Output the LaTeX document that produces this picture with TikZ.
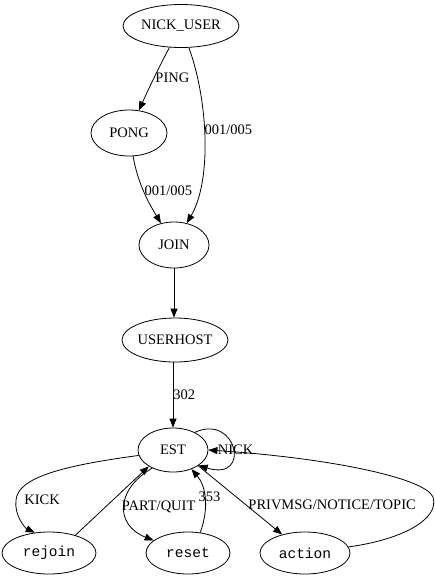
\documentclass[tikz,border=0pt]{standalone}
\usepackage{fontspec}
\setmainfont{Liberation Serif}
\setmonofont{Liberation Mono}
\usepackage{tikz}
\usetikzlibrary{shapes.geometric, arrows.meta, positioning}

\begin{document}
\begin{tikzpicture}[
    x=1pt, y=-1pt,
    state/.style={draw, ellipse, line width=0.8pt, inner sep=0pt, minimum width=70pt, minimum height=44pt, font=\fontsize{14.5}{16}\selectfont},
    cmd/.style={state, font=\ttfamily\fontsize{14.5}{16}\selectfont, minimum height=42pt},
    lbl/.style={font=\fontsize{14.5}{16}\selectfont, inner sep=1pt},
    arr/.style={-{Triangle[length=9pt,width=7pt]}, line width=0.8pt}
]
    \useasboundingbox (0,0) rectangle (435,582);

    \node[state, minimum width=116pt, minimum height=43pt] (nickuser) at (181,26) {NICK\_USER};
    \node[state, minimum width=76pt, minimum height=46pt] (pong) at (129,133) {PONG};
    \node[state, minimum height=46pt] (join) at (174,245) {JOIN};
    \node[state, minimum width=105pt] (userhost) at (175,340) {USERHOST};
    \node[state] (est) at (173,450) {EST};
    \node[cmd, minimum width=94pt] (rejoin) at (49,553) {rejoin};
    \node[cmd, minimum width=84pt] (reset) at (188,553) {reset};
    \node[cmd, minimum width=90pt] (action) at (305,553) {action};

    % login sequence
    \draw[arr] (nickuser) .. controls (160,65) and (148,90) .. node[lbl, right] {PING} (pong);
    \draw[arr] (nickuser.-70) .. controls (208,100) and (212,180) .. node[lbl, right, pos=0.45, inner sep=0pt] {001/005} (join);
    \draw[arr] (pong.-80) .. controls (138,185) and (150,205) .. node[lbl, right, pos=0.45] {001/005} (join);
    \draw[arr] (join.south) -- (join.south |- userhost.north);
    \draw[arr] (est.north |- userhost.south) -- node[lbl, right, inner sep=0pt] {302} (est.north);

    % established
    \draw[arr] (est.39) .. controls (237,413) and (252,482) .. node[lbl, pos=0.5, xshift=3pt, yshift=-2pt] {NICK} (est.-31);
    \draw[arr] (est.189) .. controls (60,466) and (18,478) .. (16,500) node[lbl, right=7pt] {KICK}
        .. controls (14,515) and (25,528) .. (rejoin.125);
    \draw[arr] (rejoin.34) -- (est.214);
    \draw[arr] (est.221) .. controls (115,490) and (115,525) .. node[lbl, right, pos=0.5, inner sep=0pt, xshift=-3pt] {PART/QUIT} (reset.160);
    \draw[arr] (reset.59) .. controls (210,505) and (205,485) .. node[lbl, pos=0.5, xshift=5pt] {353} (est.-46);
    \draw[arr] (est.-32) -- node[lbl, right, pos=0.57, inner sep=2pt] {PRIVMSG/NOTICE/TOPIC} (action.141);
    \draw[arr] (action.8) .. controls (400,540) and (440,520) .. (433,497)
        .. controls (425,478) and (330,458) .. (est.0);
\end{tikzpicture}
\end{document}
